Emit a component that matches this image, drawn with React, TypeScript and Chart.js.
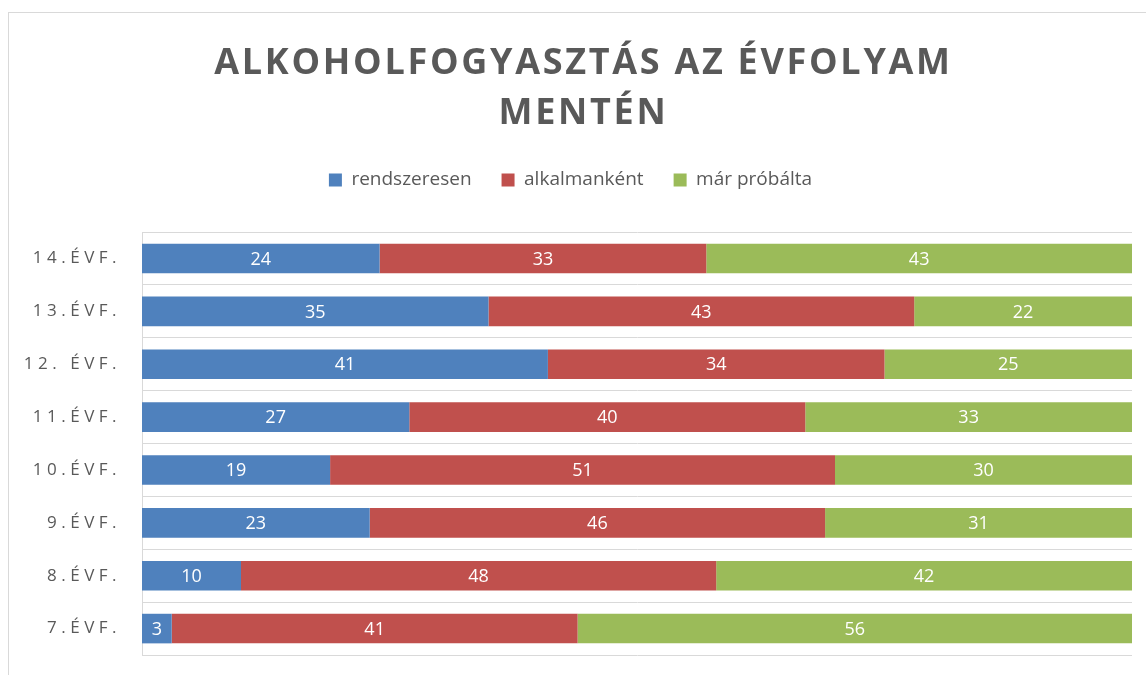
import React, { useEffect, useRef } from 'react';
import { Chart, registerables } from 'chart.js';

Chart.register(...registerables);

const categories = ['14.ÉVF.', '13.ÉVF.', '12. ÉVF.', '11.ÉVF.', '10.ÉVF.', '9.ÉVF.', '8.ÉVF.', '7.ÉVF.'];
const rendszeresen = [24, 35, 41, 27, 19, 23, 10, 3];
const alkalmankent = [33, 43, 34, 40, 51, 46, 48, 41];
const marProbalta = [43, 22, 25, 33, 30, 31, 42, 56];
const seriesNames = ['rendszeresen', 'alkalmanként', 'már próbálta'];
const seriesColors = ['#4F81BD', '#C0504D', '#9BBB59'];
const titleLines = ['ALKOHOLFOGYASZTÁS AZ ÉVFOLYAM', 'MENTÉN'];

const FONT = "'Open Sans', sans-serif";

export default function App() {
  const ref = useRef<HTMLCanvasElement>(null);

  useEffect(() => {
    const canvas = ref.current!;

    const valueLabels = {
      id: 'valueLabels',
      afterDatasetsDraw(chart: any) {
        const ctx = chart.ctx;
        ctx.save();
        ctx.fillStyle = '#ffffff';
        ctx.font = `18px ${FONT}`;
        ctx.textAlign = 'center';
        ctx.textBaseline = 'middle';
        chart.data.datasets.forEach((ds: any, i: number) => {
          const meta = chart.getDatasetMeta(i);
          meta.data.forEach((bar: any, j: number) => {
            const p = bar.getProps(['x', 'y', 'base'], true);
            ctx.fillText(String(ds.data[j]), (p.x + p.base) / 2, p.y + 1);
          });
        });
        ctx.restore();
      },
    };

    const spacing = {
      id: 'letterSpacing',
      beforeDraw(chart: any) {
        const y = chart.scales.y;
        if (y && !y.__ls) {
          const orig = y.drawLabels;
          y.drawLabels = function (ca: any) {
            const c = this.ctx;
            c.save();
            c.letterSpacing = '4.5px';
            orig.call(this, ca);
            c.restore();
          };
          y.__ls = true;
        }
        const t = chart.titleBlock;
        if (t && !t.__ls) {
          const origT = t.draw;
          t.draw = function (ca: any) {
            const c = this.ctx;
            c.save();
            c.letterSpacing = '2.7px';
            c.translate(13, 0);
            origT.call(this, ca);
            c.restore();
          };
          t.__ls = true;
        }
      },
    };

    const chart = new Chart(canvas, {
      type: 'bar',
      data: {
        labels: categories,
        datasets: [rendszeresen, alkalmankent, marProbalta].map((d, i) => ({
          label: seriesNames[i],
          data: d,
          backgroundColor: seriesColors[i],
          borderWidth: 0,
          barPercentage: 0.56,
          categoryPercentage: 1,
        })),
      },
      options: {
        indexAxis: 'y',
        responsive: false,
        animation: false,
        layout: { padding: { left: 0, right: 27, top: 0, bottom: 38 } },
        plugins: {
          title: {
            display: true,
            text: titleLines,
            color: '#595959',
            font: { family: FONT, size: 36, weight: 'bold', lineHeight: 1.39 },
            padding: { top: 26, bottom: 1.5 },
          },
          legend: {
            position: 'top',
            labels: {
              color: '#595959',
              font: { family: FONT, size: 19 },
              boxWidth: 13,
              boxHeight: 13,
              padding: 30,
            },
          },
          tooltip: { enabled: false },
        },
        scales: {
          x: {
            stacked: true,
            min: 0,
            max: 100,
            position: 'top',
            ticks: { display: false },
            grid: { display: false },
            border: { display: false },
            afterFit: (s: any) => {
              s.height = 32.5;
            },
          },
          y: {
            stacked: true,
            ticks: { color: '#595959', font: { family: FONT, size: 17 }, padding: 21 },
            grid: { color: '#d9d9d9', drawTicks: false, offset: true },
            border: { color: '#d9d9d9' },
            afterFit: (s: any) => {
              s.width = 133;
            },
          },
        },
      } as any,
      plugins: [valueLabels, spacing],
    });

    return () => chart.destroy();
  }, []);

  return (
    <div style={{ position: 'fixed', left: 0, top: 0, width: 1146, height: 675, overflow: 'hidden', background: '#fff' }}>
      <div style={{ position: 'absolute', left: 8, top: 12, width: 1150, height: 680, border: '1px solid #d9d9d9' }}>
        <canvas ref={ref} width={1150} height={680} style={{ display: 'block', width: 1150, height: 680 }} />
      </div>
    </div>
  );
}
